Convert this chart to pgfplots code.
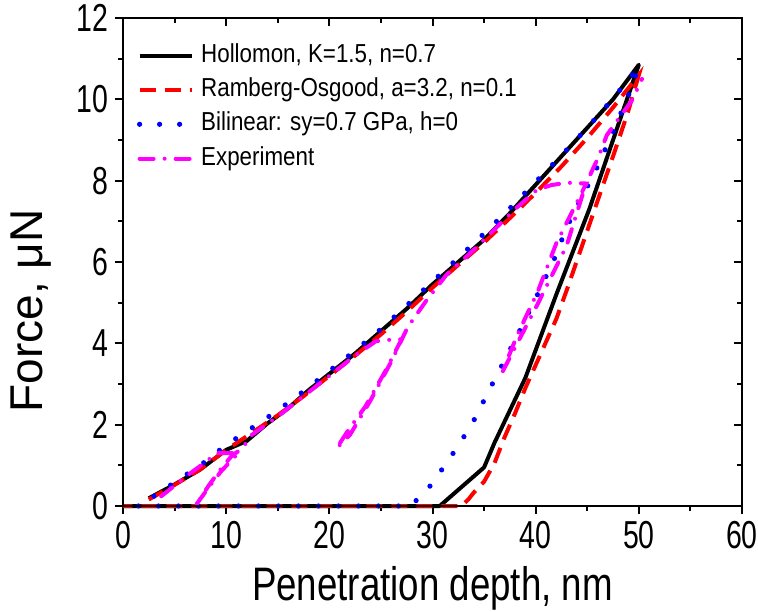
\documentclass[border=0pt]{standalone}
\usepackage{pgfplots}
\pgfplotsset{compat=1.18}
\usepackage{fontspec}
\setmainfont{Liberation Sans}
\newfontfamily\tickfont[FakeStretch=0.73]{Liberation Sans}
\newfontfamily\xlabfont[FakeStretch=0.78]{Liberation Sans}
\newfontfamily\legfont[FakeStretch=0.86]{Liberation Sans}
\definecolor{mag}{RGB}{255,0,255}
\definecolor{rd}{RGB}{255,0,0}
\definecolor{bl}{RGB}{0,0,255}

\pgfplotstableread{
x y
2.5 0.19
5 0.53
7.5 0.9
10 1.38
12 1.6
14 2.03
16 2.4
18 2.85
20 3.25
22.5 3.75
25 4.3
27.5 4.85
30 5.45
32.5 6.0
35 6.55
37.5 7.2
40 7.9
42.5 8.6
45 9.3
47.5 10.0
50 10.85
45.2 7.3
42 5.2
39 3.15
36 1.55
35 0.95
30.7 0
0 0
}\hollomon

\pgfplotstableread{
x y
2.5 0.16
5 0.52
7.5 0.9
10 1.38
12.5 1.8
15 2.23
17.5 2.7
20 3.2
22.5 3.7
25 4.22
27.5 4.78
30 5.37
32.5 5.93
35 6.48
37.5 7.08
40 7.7
42.5 8.35
45 9.05
47.5 9.8
50 10.6
48.9 9.65
47.5 8.6
46.2 7.65
44.5 6.4
43 5.3
42 4.6
40.5 3.75
39 2.9
38 2.28
37 1.7
36 1.05
35 0.6
34 0.33
33.5 0.17
32.8 0
0 0
}\ramberg

\pgfplotstableread{
x y
3 0.24
5 0.58
7.5 1.0
10 1.5
12.5 1.92
15 2.35
17.5 2.82
20 3.32
22.5 3.82
25 4.35
27.5 4.93
30 5.52
32.5 6.1
35 6.7
37.5 7.32
40 7.97
42.5 8.62
45 9.3
47.5 10.02
50 10.8
49 10.1
47.5 9.2
46 8.35
44.6 7.65
43 6.85
41.9 6.13
40 5.1
38 4.08
36 3.1
34 2.1
32.6 1.52
31.2 1.0
29.7 0.47
27.9 0
0 0
}\bilinear

\pgfplotstableread{
x y
3.7 0.24
5 0.5
6.5 0.8
8 1.08
9.1 1.3
10.2 1.3
11.2 1.3
10.6 1.15
9.5 0.85
8.2 0.42
7 0
8.3 0.5
9.6 0.95
10.6 1.25
11.5 1.4
12.5 1.75
15 2.2
17.5 2.7
20 3.2
22.5 3.7
24.5 4.05
25.4 4.08
27 4.1
25.5 3.35
23.5 2.45
21.8 1.85
20.7 1.42
22 1.75
24 2.6
26 3.55
27.6 4.4
29.4 5.05
31.4 5.7
34 6.3
36 6.8
38 7.3
40.1 7.77
41.5 7.89
43 7.95
44.9 7.93
44.1 7.52
42 6.46
40.2 5.27
38.3 4.25
36.7 3.26
40.1 4.92
43 6.4
44.6 7.7
45.2 8.1
46.1 8.59
46.9 9.12
48.4 9.65
49.4 10.0
50.3 10.5
}\experiment

\begin{document}
\begin{tikzpicture}
\useasboundingbox (-61.5pt,-52.5pt) rectangle (317.5pt,253pt);
\begin{axis}[
  scale only axis, width=309.5pt, height=244pt,
  xmin=0, xmax=60, ymin=0, ymax=12,
  xtick={0,10,...,60}, ytick={0,2,...,12},
  minor x tick num=1, minor y tick num=1,
  xtick pos=bottom, ytick pos=left,
  tick align=outside,
  major tick length=4pt, minor tick length=2.5pt,
  axis line style={line width=1pt},
  tick style={line width=1pt, black},
  clip=false,
  /pgf/number format/assume math mode=true,
  ticklabel style={font=\tickfont\fontsize{19.5}{21}\selectfont},
  xlabel={Penetration depth, nm},
  ylabel={Force, μN},
  xlabel style={font=\xlabfont\fontsize{23.5}{26}\selectfont, at={(axis description cs:0.5,0)}, anchor=center, yshift=-41pt},
  ylabel style={font=\fontsize{23}{26}\selectfont, at={(axis description cs:-0.1486,0.4)}, anchor=center},
  legend image code/.code={\draw[#1] (0pt,0pt) -- (26pt,0pt);},
  legend cell align=left,
  legend style={at={(axis description cs:0,1)}, anchor=north west, xshift=7pt, yshift=-12.5pt,
    draw=none, fill=none, inner sep=0pt, outer sep=0pt,
    font=\legfont\fontsize{13}{15}\selectfont,
    nodes={inner sep=0pt, text height=9.5pt, text depth=3pt},
    row sep=4.7pt, column sep=3.5pt},
]
\addplot[black, line width=2pt, line join=round] table[x=x,y=y] {\hollomon};
\addlegendentry{Hollomon, K=1.5, n=0.7}
\addplot[rd, line width=2pt, dash pattern=on 8pt off 4.5pt] table[x=x,y=y] {\ramberg};
\addlegendentry{Ramberg-Osgood, a=3.2, n=0.1}
\addplot[bl, line width=2.6pt, line cap=round, dash pattern=on 0pt off 10pt] table[x=x,y=y] {\bilinear};
\addlegendentry{Bilinear: sy=0.7 GPa, h=0}
\addplot[mag, line width=2pt, line cap=round, dash pattern=on 7pt off 5.5pt on 0pt off 5.5pt] table[x=x,y=y] {\experiment};
\addlegendentry{Experiment}
\end{axis}
\begin{axis}[
  scale only axis, width=309.5pt, height=244pt,
  xmin=0, xmax=60, ymin=0, ymax=12,
  xtick={0,10,...,60}, ytick={0,2,...,12},
  minor x tick num=1, minor y tick num=1,
  xtick pos=top, ytick pos=right,
  tick align=inside,
  major tick length=4pt, minor tick length=2.5pt,
  axis line style={line width=1pt},
  tick style={line width=1pt, black},
  xticklabels={}, yticklabels={},
]
\end{axis}
\end{tikzpicture}
\end{document}
